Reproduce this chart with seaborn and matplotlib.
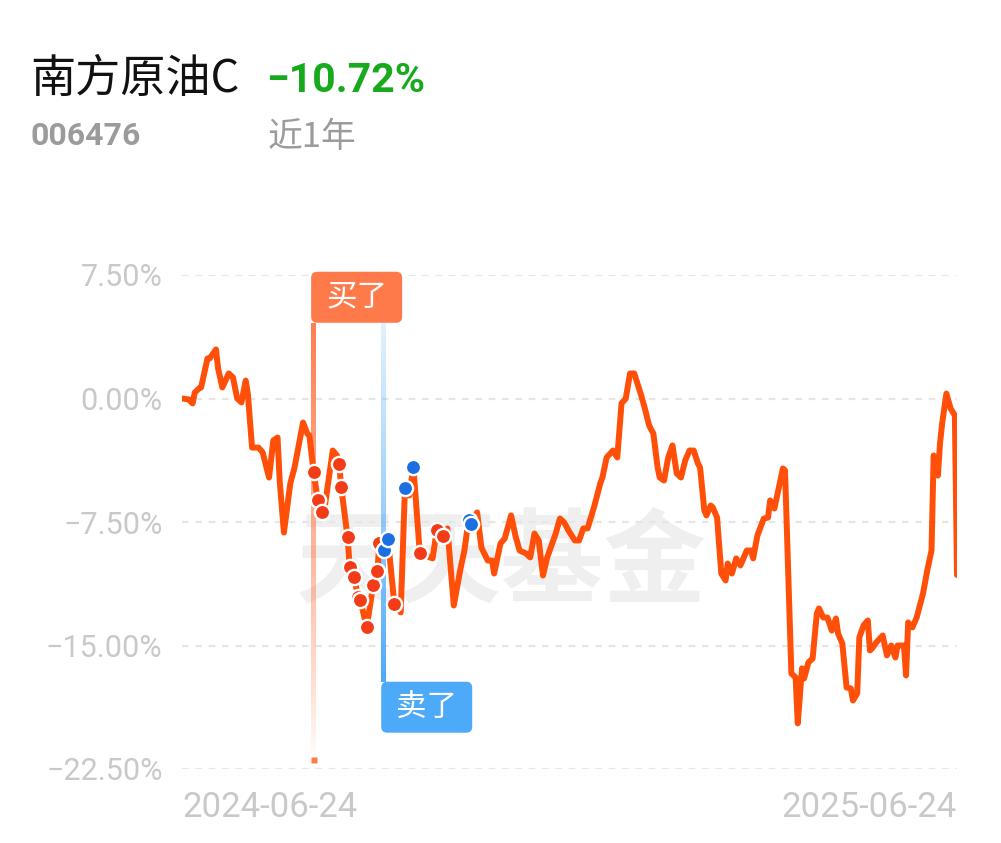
import numpy as np
import pandas as pd
import matplotlib
matplotlib.use("Agg")
import matplotlib.pyplot as plt
import seaborn as sns
from matplotlib.patches import FancyBboxPatch
from matplotlib.transforms import IdentityTransform

# ---- data -------------------------------------------------------------
fund_name = "南方原油C"
fund_code = "006476"
period_label = "近1年"
period_return = -10.72
start_date = pd.Timestamp("2024-06-24")

# calendar days since start_date and cumulative return (%)
day_offsets = [0, 3, 5, 6, 8, 9, 12, 13, 14, 16, 17, 19, 22, 24, 26, 28, 30, 31, 33, 36,
               38, 41, 43, 45, 46, 48, 51, 53, 57, 59, 60, 62, 64, 66, 67, 71, 73, 74, 75, 78,
               79, 81, 83, 84, 87, 90, 92, 93, 95, 97, 100, 103, 105, 107, 109, 112, 118, 120, 123, 125,
               128, 131, 133, 135, 136, 139, 141, 144, 146, 147, 150, 152, 155, 157, 159, 162, 164, 166, 168, 170,
               172, 176, 178, 180, 182, 185, 187, 189, 191, 194, 197, 198, 200, 203, 205, 207, 209, 211, 213, 216,
               218, 220, 222, 224, 225, 227, 229, 231, 233, 235, 237, 239, 241, 243, 244, 246, 247, 249, 250, 252,
               254, 256, 257, 259, 261, 263, 266, 268, 269, 271, 274, 276, 277, 279, 283, 284, 287, 289, 290, 292,
               293, 295, 297, 299, 300, 302, 304, 306, 308, 309, 311, 313, 315, 316, 318, 319, 321, 323, 324, 325,
               327, 330, 332, 334, 336, 337, 340, 341, 342, 344, 346, 349, 351, 353, 354, 356, 357, 358, 360, 362,
               364, 365]
returns = [0.00, -0.05, -0.30, 0.36, 0.61, 0.67, 2.43, 2.43, 2.61, 2.98, 1.82, 0.67, 1.52, 1.28, 0.00, -0.24, 1.09, 0.30, -2.98, -2.98,
           -3.28, -4.80, -2.55, -2.37, -4.98, -8.14, -5.16, -4.19, -1.46, -2.13, -2.25, -4.49, -6.19, -6.92, -6.80, -3.16, -3.46, -3.95, -5.40, -8.44,
           -10.26, -10.81, -12.08, -12.26, -13.90, -11.35, -10.50, -8.80, -9.23, -8.56, -12.45, -12.99, -5.46, -5.89, -4.19, -9.41, -9.71, -8.01, -8.38, -7.89,
           -12.57, -10.44, -9.23, -7.35, -7.60, -6.92, -9.05, -9.84, -9.84, -10.63, -8.80, -8.50, -7.10, -8.32, -9.23, -9.41, -9.65, -8.20, -8.62, -10.75,
           -9.65, -8.20, -7.29, -7.53, -8.01, -8.62, -8.62, -7.89, -7.89, -6.62, -5.16, -4.80, -3.58, -3.16, -3.58, -0.30, 0.00, 1.52, 1.52, 0.30,
           -0.61, -1.64, -2.13, -4.19, -4.80, -4.98, -3.58, -2.85, -4.55, -4.80, -3.76, -3.16, -3.16, -3.95, -4.19, -6.80, -7.10, -6.50, -6.62, -7.23,
           -10.63, -11.05, -10.02, -10.63, -9.71, -10.14, -9.23, -9.23, -9.71, -8.32, -7.29, -7.23, -6.19, -6.68, -4.25, -4.37, -16.70, -16.94, -19.73, -16.39,
           -17.00, -16.03, -15.79, -13.05, -12.75, -13.30, -13.30, -14.09, -13.36, -14.27, -14.88, -17.55, -17.61, -18.34, -17.91, -14.51, -13.78, -13.48, -15.30, -15.18,
           -14.81, -14.39, -15.60, -15.00, -15.73, -15.00, -15.00, -16.82, -13.60, -13.90, -13.30, -11.84, -10.44, -9.23, -3.46, -4.68, -2.73, -1.52, 0.30, -0.61,
           -1.03, -10.72]

# trade records: buys and sells (day offset, return %)
buy_days = [62, 64, 66, 74, 75, 78, 79, 81, 83, 84, 87, 90, 92, 93, 100, 112, 120, 123]
buy_vals = [-4.49, -6.19, -6.92, -3.95, -5.40, -8.44, -10.26, -10.81, -12.08, -12.26, -13.90,
            -11.35, -10.50, -8.80, -12.45, -9.41, -8.01, -8.38]
sell_days = [95, 97, 105, 109, 135, 136]
sell_vals = [-9.23, -8.56, -5.46, -4.19, -7.35, -7.60]

y_ticks = [-22.5, -15.0, -7.5, 0.0, 7.5]
x_ticks = [0, 365]

# ---- style ------------------------------------------------------------
sns.set_theme(style="white")
plt.rcParams["font.family"] = ["Roboto", "Noto Sans CJK SC", "DejaVu Sans"]
CJK = ["Noto Sans CJK SC", "DejaVu Sans"]
MINUS = "\u2212"

LINE_C = "#ff4f08"
BUY_C = "#f23c18"
SELL_C = "#1c6fe0"
BUY_TAG = "#ff7a4a"
SELL_TAG = "#4daaf8"
TICK_C = "#c9c9c9"


def pct(v):
    return f"{v:.2f}%".replace("-", MINUS)


W, H = 1001, 843
fig = plt.figure(figsize=(W / 100, H / 100), dpi=100)
fig.patch.set_facecolor("white")
ax = fig.add_axes([182 / W, 74 / H, 775 / W, 494 / H])
ax.set_facecolor("white")

X_LIM, Y_LIM = (0, 365), (-22.5, 7.5)
ax.set_xlim(*X_LIM)
ax.set_ylim(*Y_LIM)

# watermark
ax.text(0.412, 0.415, "天天基金", transform=ax.transAxes, ha="center", va="center",
        fontsize=74, fontweight="bold", color="#efefef", family=CJK, zorder=0)

# dashed grid
for yv in y_ticks:
    ax.axhline(yv, color="#e6e6e6", lw=1.6, ls=(0, (3, 3)), zorder=1)

df = pd.DataFrame({"day": day_offsets, "ret": returns})
sns.lineplot(data=df, x="day", y="ret", ax=ax, color=LINE_C, lw=4.3,
             solid_joinstyle="round", solid_capstyle="round", zorder=4)

# width of a trade guide bar, in days (about 5 px)
bar_w = 5 * (X_LIM[1] - X_LIM[0]) / 775


def gradient_bar(x, y_top, y_bot, color, alpha_fn, n=300):
    t = np.linspace(0, 1, n)[:, None]
    rgba = np.zeros((n, 1, 4))
    rgba[..., :3] = matplotlib.colors.to_rgb(color)
    rgba[..., 3] = alpha_fn(t)
    ax.imshow(rgba, extent=[x - bar_w / 2, x + bar_w / 2, y_bot, y_top],
              origin="upper", aspect="auto", interpolation="bilinear", zorder=3)


buy_x = buy_days[0]
sell_x = sell_days[0]
buy_top, buy_bot = 4.6, -21.5
sell_top, sell_bot = 6.9, -17.2
gradient_bar(buy_x, buy_top, buy_bot, BUY_TAG, lambda t: 0.95 * (1 - t) ** 0.8 + 0.02)
gradient_bar(sell_x, sell_top, sell_bot, SELL_TAG, lambda t: 0.12 + 0.88 * t ** 1.2)
ax.set_xlim(*X_LIM)
ax.set_ylim(*Y_LIM)
ax.set_aspect("auto")
ax.plot([buy_x], [-21.95], marker="s", ms=3.8, color=BUY_TAG, mec="none", zorder=3, clip_on=False)

# trade markers
ax.scatter(buy_days, buy_vals, s=120, color=BUY_C, edgecolor="white", linewidth=1.7, zorder=6)
ax.scatter(sell_days, sell_vals, s=120, color=SELL_C, edgecolor="white", linewidth=1.7, zorder=6)

fig.canvas.draw()


def tag(x, y, text, color, anchor):
    px, py = ax.transData.transform((x, y))
    bw, bh = 91, 51
    left = px - 2.5
    bottom = py if anchor == "above" else py - bh
    box = FancyBboxPatch((left, bottom), bw, bh, boxstyle="round,pad=0,rounding_size=6",
                         transform=IdentityTransform(), facecolor=color, edgecolor="none",
                         zorder=7, clip_on=False)
    fig.add_artist(box)
    fig.text((left + bw / 2) / W, (bottom + bh / 2) / H, text, ha="center", va="center",
             color="white", fontsize=22, family=CJK, zorder=8)


tag(buy_x, buy_top, "买了", BUY_TAG, "above")
tag(sell_x, sell_bot, "卖了", SELL_TAG, "below")

# axes / ticks
ax.set_yticks(y_ticks)
ax.set_yticklabels([pct(v) for v in y_ticks])
ax.set_xticks(x_ticks)
ax.set_xticklabels([(start_date + pd.Timedelta(days=d)).strftime("%Y-%m-%d") for d in x_ticks])
ax.tick_params(axis="y", length=0, pad=14, labelsize=22, labelcolor=TICK_C)
ax.tick_params(axis="x", length=0, pad=16, labelsize=25, labelcolor=TICK_C)
xl = ax.get_xticklabels()
xl[0].set_ha("left")
xl[-1].set_ha("right")
ax.set_xlabel("")
ax.set_ylabel("")
for s in ax.spines.values():
    s.set_visible(False)

# header
fig.text(30 / W, 1 - 79 / H, fund_name, ha="left", va="center", fontsize=32.5,
         color="#111111", family=CJK)
fig.text(266 / W, 1 - 81 / H, pct(period_return), ha="left", va="center", fontsize=29.5,
         fontweight="bold", color="#17aa1d")
fig.text(30 / W, 1 - 136 / H, fund_code, ha="left", va="center", fontsize=23,
         fontweight="bold", color="#9b9b9b")
fig.text(268 / W, 1 - 137 / H, period_label, ha="left", va="center", fontsize=25,
         color="#9b9b9b", family=CJK)

fig.savefig("out.png", dpi=100, facecolor="white")
